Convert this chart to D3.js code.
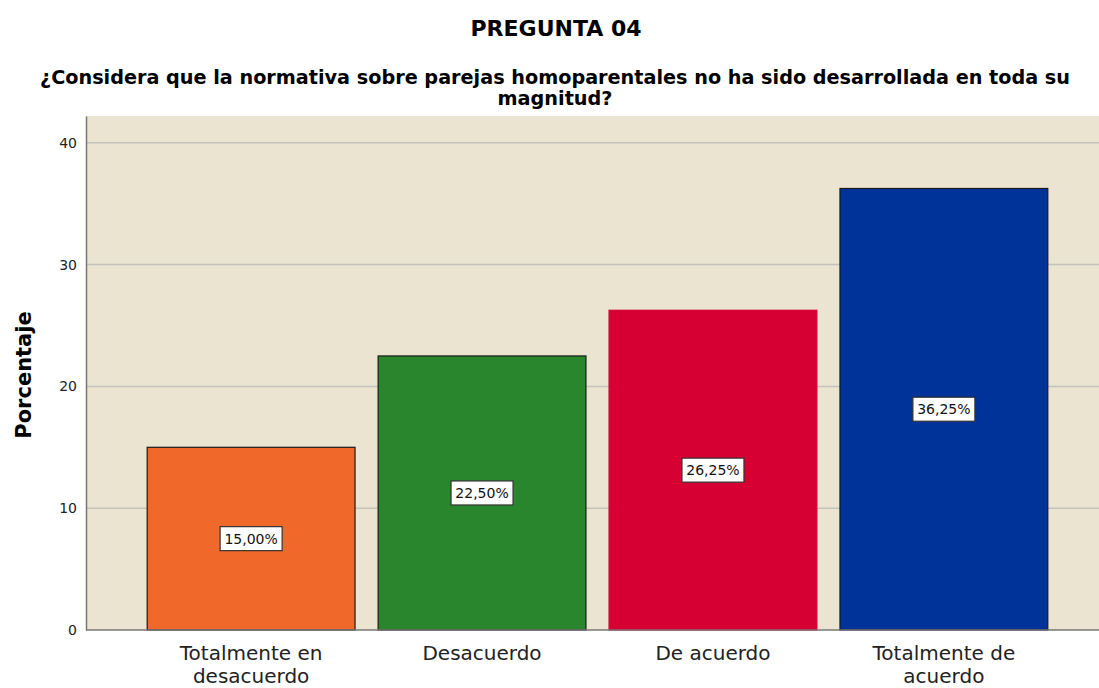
<!DOCTYPE html>
<html>
<head>
<meta charset="utf-8">
<script src="https://cdn.jsdelivr.net/npm/d3@7"></script>
<style>
  body { margin: 0; background: #fff; }
  text { font-family: "DejaVu Sans", sans-serif; }
</style>
</head>
<body>
<script>
'use strict';

// chart data
const categories = ['Totalmente en desacuerdo', 'Desacuerdo', 'De acuerdo', 'Totalmente de acuerdo']
const catLines = [['Totalmente en', 'desacuerdo'], ['Desacuerdo'], ['De acuerdo'], ['Totalmente de', 'acuerdo']]
const percents = [15.00, 22.50, 26.25, 36.25]
const barColors = ['#f1682b', '#2a862c', '#d70033', '#003399']
const barStrokes = ['#1a1a1a', '#1a1a1a', '#d70033', '#1a1a1a']
const yTicks = [0, 10, 20, 30, 40]

const m = { width: 1099, height: 688 }
const plot = { left: 86, top: 116, bottom: 630, right: 1099 }

const svg = d3.select('body').append('svg')
  .attr('width', m.width)
  .attr('height', m.height)

// titles
svg.append('text')
  .attr('x', 556).attr('y', 36)
  .attr('text-anchor', 'middle')
  .attr('textLength', 171).attr('lengthAdjust', 'spacingAndGlyphs')
  .style('font-size', '21px').style('font-weight', 'bold')
  .text('PREGUNTA 04')

const sub = svg.append('text')
  .attr('text-anchor', 'middle')
  .style('font-size', '19px').style('font-weight', 'bold')
sub.append('tspan').attr('x', 555).attr('y', 84)
  .attr('textLength', 1030).attr('lengthAdjust', 'spacingAndGlyphs')
  .text('¿Considera que la normativa sobre parejas homoparentales no ha sido desarrollada en toda su')
sub.append('tspan').attr('x', 555).attr('y', 105)
  .attr('textLength', 115).attr('lengthAdjust', 'spacingAndGlyphs')
  .text('magnitud?')

// scales
const x = d3.scaleBand()
  .domain(categories)
  .range([plot.left, 1109])
  .paddingInner(0.1)
  .paddingOuter(0.265)

const y = d3.scaleLinear()
  .domain([0, 42.2])
  .range([plot.bottom, plot.top])

// background
svg.append('rect')
  .attr('x', plot.left).attr('y', plot.top)
  .attr('width', plot.right - plot.left)
  .attr('height', plot.bottom - plot.top)
  .attr('fill', '#eae4d0')

// grid lines
svg.append('g')
  .selectAll('line')
  .data(yTicks.filter(d => d > 0))
  .enter().append('line')
    .attr('x1', plot.left).attr('x2', plot.right)
    .attr('y1', d => y(d)).attr('y2', d => y(d))
    .attr('stroke', '#c4c2bb').attr('stroke-width', 1.5)

// bars
svg.append('g')
  .selectAll('rect')
  .data(percents)
  .enter().append('rect')
    .attr('x', (d, i) => x(categories[i]))
    .attr('y', d => y(d))
    .attr('width', x.bandwidth())
    .attr('height', d => y(0) - y(d))
    .attr('fill', (d, i) => barColors[i])
    .attr('stroke', (d, i) => barStrokes[i])
    .attr('stroke-width', 1.2)

// value labels
const fmt = d => d.toFixed(2).replace('.', ',') + '%'
const labels = svg.append('g')
  .selectAll('g')
  .data(percents)
  .enter().append('g')
    .attr('transform', (d, i) =>
      'translate(' + (x(categories[i]) + x.bandwidth() / 2) + ',' + y(d / 2) + ')')
labels.append('rect')
  .attr('x', -31).attr('y', -12)
  .attr('width', 62).attr('height', 24)
  .attr('fill', '#fff')
  .attr('stroke', '#333').attr('stroke-width', 1.2)
labels.append('text')
  .attr('text-anchor', 'middle')
  .attr('dy', '0.36em')
  .style('font-size', '14px')
  .attr('fill', '#111')
  .text(fmt)

// y axis
const yAxis = d3.axisLeft(y).tickValues(yTicks).tickSize(0).tickPadding(9)
const gy = svg.append('g')
  .attr('transform', 'translate(' + plot.left + ',0)')
  .call(yAxis)
gy.select('.domain').attr('stroke', '#777').attr('stroke-width', 1.5)
gy.selectAll('text').style('font-size', '14px').attr('fill', '#222')
  .style('font-family', '"DejaVu Sans", sans-serif')

// x axis line
svg.append('line')
  .attr('x1', plot.left).attr('x2', plot.right)
  .attr('y1', plot.bottom).attr('y2', plot.bottom)
  .attr('stroke', '#777').attr('stroke-width', 1.5)

// x category labels
const xl = svg.append('g')
  .selectAll('text')
  .data(catLines)
  .enter().append('text')
    .attr('text-anchor', 'middle')
    .style('font-size', '20px')
    .attr('fill', '#222')
xl.each(function (lines, i) {
  const cx = x(categories[i]) + x.bandwidth() / 2
  lines.forEach((t, j) => {
    d3.select(this).append('tspan')
      .attr('x', cx)
      .attr('y', 660 + j * 23)
      .text(t)
  })
})

// y axis title
svg.append('text')
  .attr('transform', 'translate(31, 375)rotate(-90)')
  .attr('text-anchor', 'middle')
  .style('font-size', '21px').style('font-weight', 'bold')
  .text('Porcentaje')
</script>
</body>
</html>
